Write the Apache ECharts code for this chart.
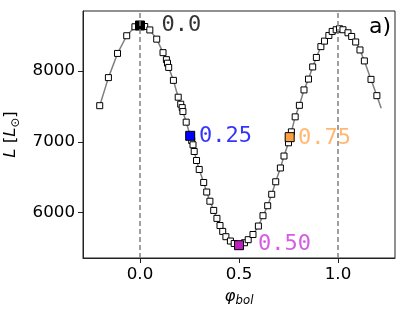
<!DOCTYPE html>
<html><head><meta charset="utf-8">
<script src="https://cdn.jsdelivr.net/npm/echarts@6/dist/echarts.min.js"></script>
<style>html,body{margin:0;padding:0;background:#fff}#c{width:407px;height:316px}</style>
</head><body><div id="c"></div>
<script>
const phase = [-0.2035,-0.1596,-0.1136,-0.0672,-0.0258,0.0,0.0237,0.0495,0.0843,0.1162,0.1333,0.1389,0.1449,0.1687,0.1929,0.2056,0.2131,0.2167,0.2333,0.2535,0.2611,0.2677,0.2737,0.2854,0.299,0.3217,0.3369,0.353,0.3722,0.3884,0.404,0.4177,0.4338,0.4566,0.4758,0.5,0.5278,0.5465,0.5707,0.598,0.6212,0.6449,0.6652,0.6854,0.7091,0.7273,0.75,0.756,0.7646,0.7838,0.805,0.8283,0.851,0.8722,0.8909,0.9136,0.9318,0.954,0.9707,0.9909,1.0076,1.0253,1.0505,1.0692,1.0894,1.1111,1.1333,1.1667,1.1965];
const lum = [7511,7908,8250,8500,8627,8645,8631,8582,8452,8261,8162,8112,8052,7869,7631,7532,7484,7428,7278,7085,7018,6958,6863,6736,6609,6425,6290,6160,6030,5917,5816,5733,5658,5597,5562,5538,5573,5616,5689,5809,5955,6096,6258,6435,6630,6799,6986,7066,7141,7353,7516,7734,7887,8059,8193,8346,8424,8504,8561,8585,8599,8585,8542,8490,8412,8299,8144,7883,7653];
const lineEndPhase = [1.2182];
const lineEndLum = [7476];
const keyPhase = [0.0, 0.2535, 0.5, 0.756];
const keyLum = [8645, 7085, 5538, 7066];
const keyLabels = ['0.0', '0.25', '0.50', '0.75'];
const keyColors = ['#000000', '#0000ff', '#bf1fbf', '#ffa040'];
const keyTextColors = ['#000000', '#0000ff', '#cc33dd', '#ffa850'];
const labelPhase = [0.108, 0.298, 0.596, 0.798];
const labelLum = [8643, 7085, 5545, 7056];
const xTicks = [0.0, 0.5, 1.0];
const yTicks = [6000, 7000, 8000];
const markPhases = [0, 1];

const lineData = phase.map((p,i)=>[p,lum[i]]).concat(lineEndPhase.map((p,i)=>[p,lineEndLum[i]]));
const chart = echarts.init(document.getElementById('c'), null, {renderer:'canvas'});
chart.setOption({
  animation:false,
  grid:{left:83,right:12,top:11,bottom:58,show:true,borderColor:'#222',borderWidth:1,backgroundColor:'transparent',outerBoundsMode:'none',containLabel:false},
  xAxis:{type:'value',min:-0.288,max:1.288,
    axisLine:{show:true,onZero:false,lineStyle:{color:'#222',width:1}},
    axisTick:{show:true,length:5,customValues:xTicks,lineStyle:{color:'#222'}},
    axisLabel:{customValues:xTicks,formatter:v=>v.toFixed(1),margin:8,fontSize:16.7,fontFamily:'DejaVu Sans',color:'#000'},
    splitLine:{show:false},
    name:'{i|φ}{s|bol}',nameLocation:'middle',nameGap:28,
    nameTextStyle:{rich:{i:{fontSize:16.7,fontStyle:'italic',fontFamily:'DejaVu Sans',color:'#000'},s:{fontSize:11.7,fontStyle:'italic',fontFamily:'DejaVu Sans',color:'#000',padding:[9,0,0,0]}}}
  },
  yAxis:{type:'value',min:5357,max:8850,
    axisLine:{show:true,onZero:false,lineStyle:{color:'#222',width:1}},
    axisTick:{show:true,length:5,customValues:yTicks,lineStyle:{color:'#222'}},
    axisLabel:{customValues:yTicks,formatter:v=>String(v),margin:8,fontSize:16.7,fontFamily:'DejaVu Sans',color:'#000'},
    splitLine:{show:false},
    name:'{i|L} [{i|L}{s|⊙}]',nameLocation:'middle',nameGap:53,nameRotate:90,
    nameTextStyle:{fontSize:16.7,fontFamily:'DejaVu Sans',color:'#000',rich:{i:{fontSize:16.7,fontStyle:'italic',fontFamily:'DejaVu Sans',color:'#000'},s:{fontSize:11.7,fontFamily:'DejaVu Sans',color:'#000',padding:[9,0,0,0]}}}
  },
  series:[
    {type:'line',data:lineData,showSymbol:false,symbol:'none',lineStyle:{color:'#808080',width:1.5},z:2,
      markLine:{silent:true,symbol:['none','none'],label:{show:false},
        lineStyle:{color:'#808080',type:[5,3],width:1.5},
        data:markPhases.map(p=>({xAxis:p}))}},
    {type:'scatter',data:phase.map((p,i)=>[p,lum[i]]),symbol:'rect',symbolSize:6,
      itemStyle:{color:'#fff',borderColor:'#000',borderWidth:1,opacity:1},z:3},
    {type:'scatter',data:keyPhase.map((p,i)=>({value:[p,keyLum[i]],itemStyle:{color:keyColors[i]}})),symbol:'rect',symbolSize:9,
      itemStyle:{borderColor:'#000',borderWidth:1,opacity:1},z:4},
    {type:'scatter',data:labelPhase.map((p,i)=>({value:[p,labelLum[i]],label:{formatter:keyLabels[i],color:keyTextColors[i]}})),
      symbolSize:0,z:5,
      label:{show:true,position:'right',distance:0,fontFamily:'DejaVu Sans Mono',fontSize:22}}
  ],
  graphic:[{type:'text',right:16,top:16,style:{text:'a)',fontFamily:'DejaVu Sans',fontSize:22,fill:'#000'}}]
});
</script></body></html>
